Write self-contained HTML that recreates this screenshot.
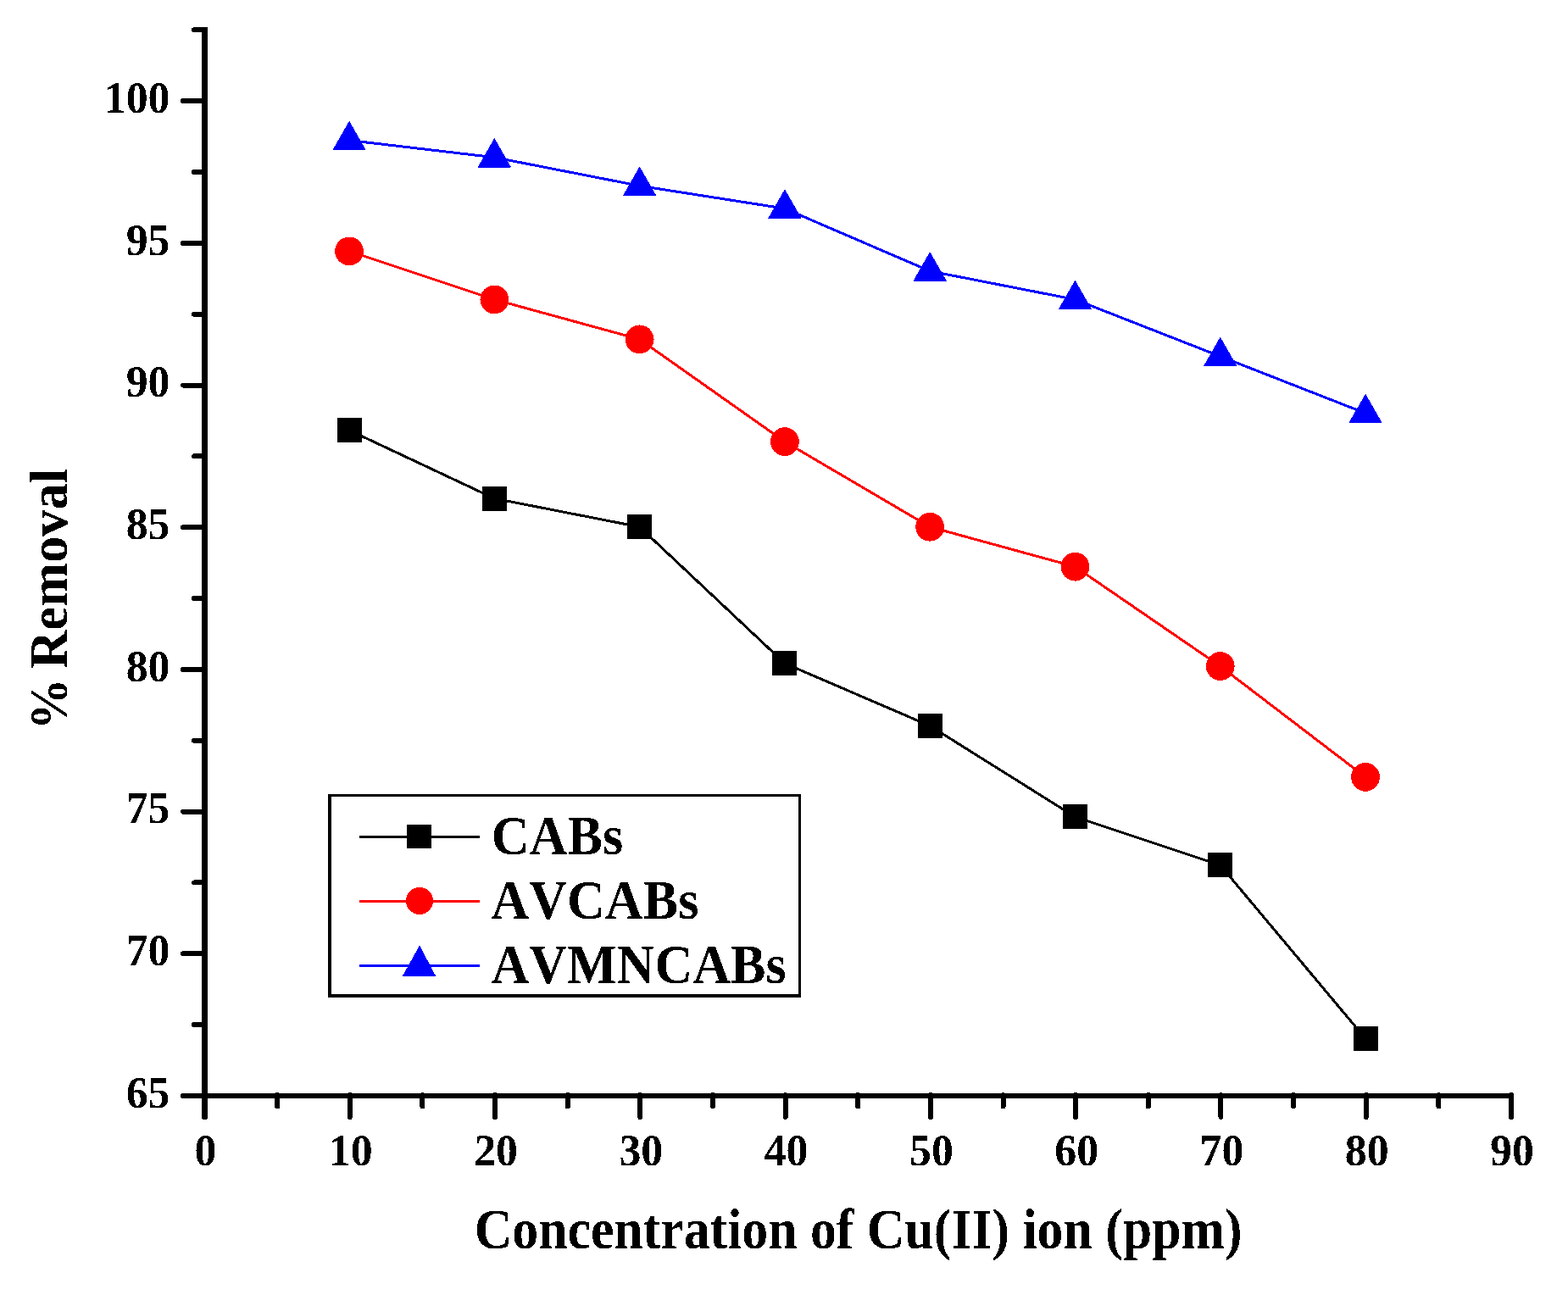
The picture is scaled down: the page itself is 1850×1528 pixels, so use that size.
<!DOCTYPE html>
<html><head><meta charset="utf-8"><title>% Removal vs Concentration of Cu(II) ion</title>
<style>html,body{margin:0;padding:0;background:#fff;overflow:hidden;}svg{display:block;}</style></head>
<body>
<svg width="1850" height="1528" viewBox="0 0 1850 1528">
<g shape-rendering="crispEdges">
<rect x="0" y="0" width="1850" height="1528" fill="#fff"/>
<polyline points="412.08,507.70 583.36,588.19 754.63,621.73 925.91,782.71 1097.19,856.50 1268.47,963.82 1439.74,1020.84 1611.02,1225.42" fill="none" stroke="#000" stroke-width="3" stroke-linejoin="round"/>
<polyline points="412.08,296.40 583.36,353.42 754.63,400.37 925.91,521.11 1097.19,621.73 1268.47,668.68 1439.74,786.07 1611.02,916.87" fill="none" stroke="#ff0000" stroke-width="3" stroke-linejoin="round"/>
<polyline points="412.08,165.60 583.36,185.73 754.63,219.27 925.91,246.10 1097.19,319.88 1268.47,353.42 1439.74,420.50 1611.02,487.57" fill="none" stroke="#0000ff" stroke-width="3" stroke-linejoin="round"/>
<rect x="397.58" y="493.20" width="29" height="29" fill="#000"/>
<rect x="568.86" y="573.69" width="29" height="29" fill="#000"/>
<rect x="740.13" y="607.23" width="29" height="29" fill="#000"/>
<rect x="911.41" y="768.21" width="29" height="29" fill="#000"/>
<rect x="1082.69" y="842.00" width="29" height="29" fill="#000"/>
<rect x="1253.97" y="949.32" width="29" height="29" fill="#000"/>
<rect x="1425.24" y="1006.34" width="29" height="29" fill="#000"/>
<rect x="1596.52" y="1210.92" width="29" height="29" fill="#000"/>
<circle cx="412.08" cy="296.40" r="16.9" fill="#ff0000"/>
<circle cx="583.36" cy="353.42" r="16.9" fill="#ff0000"/>
<circle cx="754.63" cy="400.37" r="16.9" fill="#ff0000"/>
<circle cx="925.91" cy="521.11" r="16.9" fill="#ff0000"/>
<circle cx="1097.19" cy="621.73" r="16.9" fill="#ff0000"/>
<circle cx="1268.47" cy="668.68" r="16.9" fill="#ff0000"/>
<circle cx="1439.74" cy="786.07" r="16.9" fill="#ff0000"/>
<circle cx="1611.02" cy="916.87" r="16.9" fill="#ff0000"/>
<polygon points="412.08,143.70 431.08,176.90 393.08,176.90" fill="#0000ff" stroke="#0000ff" stroke-width="1" stroke-linejoin="round"/>
<polygon points="583.36,163.83 602.36,197.03 564.36,197.03" fill="#0000ff" stroke="#0000ff" stroke-width="1" stroke-linejoin="round"/>
<polygon points="754.63,197.37 773.63,230.57 735.63,230.57" fill="#0000ff" stroke="#0000ff" stroke-width="1" stroke-linejoin="round"/>
<polygon points="925.91,224.20 944.91,257.40 906.91,257.40" fill="#0000ff" stroke="#0000ff" stroke-width="1" stroke-linejoin="round"/>
<polygon points="1097.19,297.98 1116.19,331.18 1078.19,331.18" fill="#0000ff" stroke="#0000ff" stroke-width="1" stroke-linejoin="round"/>
<polygon points="1268.47,331.52 1287.47,364.72 1249.47,364.72" fill="#0000ff" stroke="#0000ff" stroke-width="1" stroke-linejoin="round"/>
<polygon points="1439.74,398.60 1458.74,431.80 1420.74,431.80" fill="#0000ff" stroke="#0000ff" stroke-width="1" stroke-linejoin="round"/>
<polygon points="1611.02,465.67 1630.02,498.87 1592.02,498.87" fill="#0000ff" stroke="#0000ff" stroke-width="1" stroke-linejoin="round"/>
<rect x="238" y="32" width="7" height="1264" fill="#000"/>
<rect x="238" y="1290" width="1548" height="6" fill="#000"/>
<line x1="216" y1="1293.00" x2="240" y2="1293.00" stroke="#000" stroke-width="6" stroke-linecap="round"/>
<line x1="229" y1="1209.15" x2="240" y2="1209.15" stroke="#000" stroke-width="6" stroke-linecap="round"/>
<line x1="216" y1="1125.31" x2="240" y2="1125.31" stroke="#000" stroke-width="6" stroke-linecap="round"/>
<line x1="229" y1="1041.46" x2="240" y2="1041.46" stroke="#000" stroke-width="6" stroke-linecap="round"/>
<line x1="216" y1="957.61" x2="240" y2="957.61" stroke="#000" stroke-width="6" stroke-linecap="round"/>
<line x1="229" y1="873.77" x2="240" y2="873.77" stroke="#000" stroke-width="6" stroke-linecap="round"/>
<line x1="216" y1="789.92" x2="240" y2="789.92" stroke="#000" stroke-width="6" stroke-linecap="round"/>
<line x1="229" y1="706.08" x2="240" y2="706.08" stroke="#000" stroke-width="6" stroke-linecap="round"/>
<line x1="216" y1="622.23" x2="240" y2="622.23" stroke="#000" stroke-width="6" stroke-linecap="round"/>
<line x1="229" y1="538.38" x2="240" y2="538.38" stroke="#000" stroke-width="6" stroke-linecap="round"/>
<line x1="216" y1="454.54" x2="240" y2="454.54" stroke="#000" stroke-width="6" stroke-linecap="round"/>
<line x1="229" y1="370.69" x2="240" y2="370.69" stroke="#000" stroke-width="6" stroke-linecap="round"/>
<line x1="216" y1="286.84" x2="240" y2="286.84" stroke="#000" stroke-width="6" stroke-linecap="round"/>
<line x1="229" y1="203.00" x2="240" y2="203.00" stroke="#000" stroke-width="6" stroke-linecap="round"/>
<line x1="216" y1="119.15" x2="240" y2="119.15" stroke="#000" stroke-width="6" stroke-linecap="round"/>
<line x1="229" y1="35.30" x2="240" y2="35.30" stroke="#000" stroke-width="6" stroke-linecap="round"/>
<line x1="241.50" y1="1292" x2="241.50" y2="1317.5" stroke="#000" stroke-width="7" stroke-linecap="round"/>
<line x1="327.14" y1="1292" x2="327.14" y2="1305.5" stroke="#000" stroke-width="6" stroke-linecap="round"/>
<line x1="412.78" y1="1292" x2="412.78" y2="1318.0" stroke="#000" stroke-width="6" stroke-linecap="round"/>
<line x1="498.42" y1="1292" x2="498.42" y2="1305.5" stroke="#000" stroke-width="6" stroke-linecap="round"/>
<line x1="584.06" y1="1292" x2="584.06" y2="1318.0" stroke="#000" stroke-width="6" stroke-linecap="round"/>
<line x1="669.69" y1="1292" x2="669.69" y2="1305.5" stroke="#000" stroke-width="6" stroke-linecap="round"/>
<line x1="755.33" y1="1292" x2="755.33" y2="1318.0" stroke="#000" stroke-width="6" stroke-linecap="round"/>
<line x1="840.97" y1="1292" x2="840.97" y2="1305.5" stroke="#000" stroke-width="6" stroke-linecap="round"/>
<line x1="926.61" y1="1292" x2="926.61" y2="1318.0" stroke="#000" stroke-width="6" stroke-linecap="round"/>
<line x1="1012.25" y1="1292" x2="1012.25" y2="1305.5" stroke="#000" stroke-width="6" stroke-linecap="round"/>
<line x1="1097.89" y1="1292" x2="1097.89" y2="1318.0" stroke="#000" stroke-width="6" stroke-linecap="round"/>
<line x1="1183.53" y1="1292" x2="1183.53" y2="1305.5" stroke="#000" stroke-width="6" stroke-linecap="round"/>
<line x1="1269.17" y1="1292" x2="1269.17" y2="1318.0" stroke="#000" stroke-width="6" stroke-linecap="round"/>
<line x1="1354.81" y1="1292" x2="1354.81" y2="1305.5" stroke="#000" stroke-width="6" stroke-linecap="round"/>
<line x1="1440.44" y1="1292" x2="1440.44" y2="1318.0" stroke="#000" stroke-width="6" stroke-linecap="round"/>
<line x1="1526.08" y1="1292" x2="1526.08" y2="1305.5" stroke="#000" stroke-width="6" stroke-linecap="round"/>
<line x1="1611.72" y1="1292" x2="1611.72" y2="1318.0" stroke="#000" stroke-width="6" stroke-linecap="round"/>
<line x1="1697.36" y1="1292" x2="1697.36" y2="1305.5" stroke="#000" stroke-width="6" stroke-linecap="round"/>
<line x1="1783.00" y1="1292" x2="1783.00" y2="1318.0" stroke="#000" stroke-width="6" stroke-linecap="round"/>
</g>
<defs><filter id="alias" filterUnits="userSpaceOnUse" x="0" y="0" width="1850" height="1528"><feComponentTransfer><feFuncA type="discrete" tableValues="0 1"/></feComponentTransfer></filter></defs>
<g filter="url(#alias)">
<text x="200.5" y="1306.80" font-family="Liberation Serif, Times New Roman, serif" font-weight="bold" style="font-kerning:none" font-size="51.8" text-anchor="end">65</text>
<text x="200.5" y="1139.11" font-family="Liberation Serif, Times New Roman, serif" font-weight="bold" style="font-kerning:none" font-size="51.8" text-anchor="end">70</text>
<text x="200.5" y="971.41" font-family="Liberation Serif, Times New Roman, serif" font-weight="bold" style="font-kerning:none" font-size="51.8" text-anchor="end">75</text>
<text x="200.5" y="803.72" font-family="Liberation Serif, Times New Roman, serif" font-weight="bold" style="font-kerning:none" font-size="51.8" text-anchor="end">80</text>
<text x="200.5" y="636.03" font-family="Liberation Serif, Times New Roman, serif" font-weight="bold" style="font-kerning:none" font-size="51.8" text-anchor="end">85</text>
<text x="200.5" y="468.34" font-family="Liberation Serif, Times New Roman, serif" font-weight="bold" style="font-kerning:none" font-size="51.8" text-anchor="end">90</text>
<text x="200.5" y="300.64" font-family="Liberation Serif, Times New Roman, serif" font-weight="bold" style="font-kerning:none" font-size="51.8" text-anchor="end">95</text>
<text x="200.5" y="132.95" font-family="Liberation Serif, Times New Roman, serif" font-weight="bold" style="font-kerning:none" font-size="51.8" text-anchor="end">100</text>
<text x="242.50" y="1374.6" font-family="Liberation Serif, Times New Roman, serif" font-weight="bold" style="font-kerning:none" font-size="51.8" text-anchor="middle">0</text>
<text x="413.78" y="1374.6" font-family="Liberation Serif, Times New Roman, serif" font-weight="bold" style="font-kerning:none" font-size="51.8" text-anchor="middle">10</text>
<text x="585.06" y="1374.6" font-family="Liberation Serif, Times New Roman, serif" font-weight="bold" style="font-kerning:none" font-size="51.8" text-anchor="middle">20</text>
<text x="756.33" y="1374.6" font-family="Liberation Serif, Times New Roman, serif" font-weight="bold" style="font-kerning:none" font-size="51.8" text-anchor="middle">30</text>
<text x="927.61" y="1374.6" font-family="Liberation Serif, Times New Roman, serif" font-weight="bold" style="font-kerning:none" font-size="51.8" text-anchor="middle">40</text>
<text x="1098.89" y="1374.6" font-family="Liberation Serif, Times New Roman, serif" font-weight="bold" style="font-kerning:none" font-size="51.8" text-anchor="middle">50</text>
<text x="1270.17" y="1374.6" font-family="Liberation Serif, Times New Roman, serif" font-weight="bold" style="font-kerning:none" font-size="51.8" text-anchor="middle">60</text>
<text x="1441.44" y="1374.6" font-family="Liberation Serif, Times New Roman, serif" font-weight="bold" style="font-kerning:none" font-size="51.8" text-anchor="middle">70</text>
<text x="1612.72" y="1374.6" font-family="Liberation Serif, Times New Roman, serif" font-weight="bold" style="font-kerning:none" font-size="51.8" text-anchor="middle">80</text>
<text x="1784.00" y="1374.6" font-family="Liberation Serif, Times New Roman, serif" font-weight="bold" style="font-kerning:none" font-size="51.8" text-anchor="middle">90</text>
<text transform="translate(559.71,1473) scale(0.9263,1)" x="0" y="0" font-family="Liberation Serif, Times New Roman, serif" font-weight="bold" style="font-kerning:none" font-size="66.7">Concentration of Cu(II) ion (ppm)</text>
<text transform="translate(79.3,861.17) rotate(-90) scale(0.9491,1)" x="0" y="0" font-family="Liberation Serif, Times New Roman, serif" font-weight="bold" style="font-kerning:none" font-size="64">%</text>
<text transform="translate(79.3,788.95) rotate(-90) scale(0.9768,1)" x="0" y="0" font-family="Liberation Serif, Times New Roman, serif" font-weight="bold" style="font-kerning:none" font-size="64">Removal</text>
</g>
<g shape-rendering="crispEdges">
<rect x="389" y="938.5" width="554.5" height="236.5" fill="none" stroke="#000" stroke-width="3.7"/>
<rect x="424" y="986.0" width="142" height="3" fill="#000"/>
<rect x="480" y="973" width="29" height="28" fill="#000"/>
<rect x="424" y="1062.0" width="142" height="3" fill="#ff0000"/>
<circle cx="495" cy="1062.9" r="16" fill="#ff0000"/>
<rect x="424" y="1137.9" width="142" height="3" fill="#0000ff"/>
<polygon points="495,1116.6 513.5,1151.5 475.5,1151.5" fill="#0000ff" stroke="#0000ff" stroke-width="1" stroke-linejoin="round"/>
</g>
<g filter="url(#alias)">
<text transform="translate(579.69,1008) scale(0.9493,1)" x="0" y="0" font-family="Liberation Serif, Times New Roman, serif" font-weight="bold" style="font-kerning:none" font-size="65.5">CABs</text>
<text transform="translate(579.28,1084) scale(0.9484,1)" x="0" y="0" font-family="Liberation Serif, Times New Roman, serif" font-weight="bold" style="font-kerning:none" font-size="65.5">AVCABs</text>
<text transform="translate(579.38,1160) scale(0.9478,1)" x="0" y="0" font-family="Liberation Serif, Times New Roman, serif" font-weight="bold" style="font-kerning:none" font-size="65.5">AVMNCABs</text>
</g>
</svg>
</body></html>
